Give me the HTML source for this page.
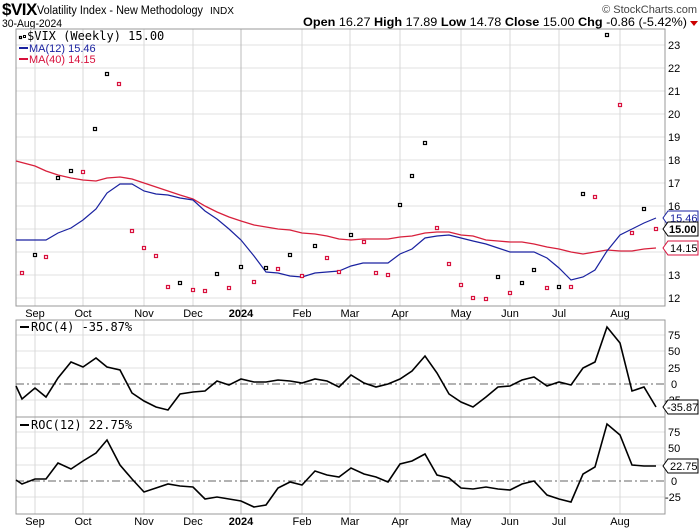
<!DOCTYPE html>
<html><head><meta charset="utf-8"><style>
body{margin:0;background:#fff;}
svg{display:block;font-family:"Liberation Sans",sans-serif;}
.m{font-family:"DejaVu Sans Mono","Liberation Mono",monospace;}
</style></head><body>
<svg width="700" height="530" viewBox="0 0 700 530" xmlns="http://www.w3.org/2000/svg">
<text x="2" y="15" font-size="17" font-weight="bold" letter-spacing="-0.5">$VIX</text>
<text x="37" y="14" font-size="11.5" textLength="166" lengthAdjust="spacingAndGlyphs">Volatility Index - New Methodology</text>
<text x="210" y="14" font-size="10.5" textLength="24" lengthAdjust="spacingAndGlyphs">INDX</text>
<text x="697" y="13" font-size="11" text-anchor="end" fill="#444">© StockCharts.com</text>
<text x="2" y="27" font-size="11" textLength="60" lengthAdjust="spacingAndGlyphs">30-Aug-2024</text>
<text x="303" y="26" font-size="12" textLength="384" lengthAdjust="spacingAndGlyphs"><tspan font-weight="bold">Open</tspan> 16.27 <tspan font-weight="bold">High</tspan> 17.89 <tspan font-weight="bold">Low</tspan> 14.78 <tspan font-weight="bold">Close</tspan> 15.00 <tspan font-weight="bold">Chg</tspan> -0.86 (-5.42%)</text>
<path d="M690 21L698 21L694 26Z" fill="#c00"/>

<g stroke="#e0e0e0" stroke-width="1">
<line x1="16" x2="665" y1="45" y2="45"/><line x1="16" x2="665" y1="68" y2="68"/><line x1="16" x2="665" y1="91" y2="91"/><line x1="16" x2="665" y1="114" y2="114"/><line x1="16" x2="665" y1="137" y2="137"/><line x1="16" x2="665" y1="160" y2="160"/><line x1="16" x2="665" y1="183" y2="183"/><line x1="16" x2="665" y1="206" y2="206"/><line x1="16" x2="665" y1="229" y2="229"/><line x1="16" x2="665" y1="252" y2="252"/><line x1="16" x2="665" y1="275" y2="275"/><line x1="16" x2="665" y1="298" y2="298"/>
<line x1="16" x2="665" y1="335" y2="335"/><line x1="16" x2="665" y1="351" y2="351"/><line x1="16" x2="665" y1="368" y2="368"/><line x1="16" x2="665" y1="400" y2="400"/>
<line x1="16" x2="665" y1="432" y2="432"/><line x1="16" x2="665" y1="448" y2="448"/><line x1="16" x2="665" y1="465" y2="465"/><line x1="16" x2="665" y1="497" y2="497"/>
</g>
<g stroke="#d8d8d8">
<path d="M35 29V306M83 29V306M144 29V306M193 29V306M302 29V306M350 29V306M400 29V306M461 29V306M510 29V306M559 29V306M620 29V306"/>
<path d="M35 320V514M83 320V514M144 320V514M193 320V514M302 320V514M350 320V514M400 320V514M461 320V514M510 320V514M559 320V514M620 320V514"/>
</g>
<path d="M241 29V514" stroke="#bbb"/>
<g fill="none" stroke="#999">
<rect x="16" y="29" width="649" height="277"/>
<rect x="16" y="320" width="649" height="97"/>
<rect x="16" y="417" width="649" height="97"/>
</g>
<path d="M16 384H665M16 481H665" stroke="#666" stroke-dasharray="8,3,2,3"/>

<g font-size="11" fill="#000">
<text x="668" y="49">23</text><text x="668" y="72">22</text><text x="668" y="95">21</text><text x="668" y="118">20</text><text x="668" y="141">19</text><text x="668" y="164">18</text><text x="668" y="187">17</text><text x="668" y="210">16</text><text x="668" y="279">13</text><text x="668" y="302">12</text>
<text x="668" y="339">75</text><text x="668" y="355">50</text><text x="668" y="372">25</text><text x="671" y="388">0</text><text x="665" y="404">-25</text>
<text x="668" y="436">75</text><text x="668" y="452">50</text><text x="671" y="485">0</text><text x="665" y="501">-25</text>
</g>
<g font-size="11" text-anchor="middle">
<text x="35" y="317">Sep</text><text x="83" y="317">Oct</text><text x="144" y="317">Nov</text><text x="193" y="317">Dec</text><text x="241" y="317" font-weight="bold">2024</text><text x="302" y="317">Feb</text><text x="350" y="317">Mar</text><text x="400" y="317">Apr</text><text x="461" y="317">May</text><text x="510" y="317">Jun</text><text x="559" y="317">Jul</text><text x="620" y="317">Aug</text>
<text x="35" y="525">Sep</text><text x="83" y="525">Oct</text><text x="144" y="525">Nov</text><text x="193" y="525">Dec</text><text x="241" y="525" font-weight="bold">2024</text><text x="302" y="525">Feb</text><text x="350" y="525">Mar</text><text x="400" y="525">Apr</text><text x="461" y="525">May</text><text x="510" y="525">Jun</text><text x="559" y="525">Jul</text><text x="620" y="525">Aug</text>
</g>

<polyline fill="none" stroke="#d8203c" stroke-width="1.3" points="16,161 35,166 46,171 58,175 71,178 83,180 96,181 107,178 120,177 132,179 144,183 156,187 168,191 180,195 193,199 205,206 217,212 229,217 241,221 254,225 266,227 278,229 290,230 302,233 315,234 327,236 339,239 351,240 363,239 376,239 388,239 400,237 412,236 425,233 437,232 449,232 461,235 473,236 486,240 498,241 510,242 522,242 534,244 547,247 559,249 571,252 583,254 595,252 607,250 620,251 632,251 644,249 656,248"/>
<polyline fill="none" stroke="#1a22a0" stroke-width="1.2" points="16,240 46,240 58,233 71,228 83,220 96,209 107,193 120,184 132,184 144,191 156,194 168,195 180,198 193,200 205,211 217,219 229,229 241,240 254,256 266,272 278,273 290,276 302,277 315,273 327,272 339,271 351,266 363,263 376,263 388,263 400,254 412,249 425,238 437,236 449,235 461,238 473,241 486,244 498,248 510,252 522,252 534,252 547,258 559,268 571,280 583,277 595,270 607,251 620,235 632,229 644,223 656,218"/>

<g fill="#fff" stroke-width="1.2">
<g stroke="#000">
<rect x="33.5" y="253.5" width="3" height="3"/><rect x="56.5" y="176.5" width="3" height="3"/><rect x="69.5" y="169.5" width="3" height="3"/><rect x="93.5" y="127.5" width="3" height="3"/><rect x="105.5" y="72.5" width="3" height="3"/><rect x="178.5" y="281.5" width="3" height="3"/><rect x="215.5" y="272.5" width="3" height="3"/><rect x="239.5" y="265.5" width="3" height="3"/><rect x="264.5" y="266.5" width="3" height="3"/><rect x="288.5" y="253.5" width="3" height="3"/><rect x="313.5" y="244.5" width="3" height="3"/><rect x="349.5" y="233.5" width="3" height="3"/><rect x="398.5" y="203.5" width="3" height="3"/><rect x="410.5" y="174.5" width="3" height="3"/><rect x="423.5" y="141.5" width="3" height="3"/><rect x="496.5" y="275.5" width="3" height="3"/><rect x="520.5" y="281.5" width="3" height="3"/><rect x="532.5" y="268.5" width="3" height="3"/><rect x="557.5" y="285.5" width="3" height="3"/><rect x="581.5" y="192.5" width="3" height="3"/><rect x="605.5" y="33.5" width="3" height="3"/><rect x="642.5" y="207.5" width="3" height="3"/>
<rect x="19.5" y="36.5" width="2" height="2"/>
</g>
<g stroke="#d8103c">
<rect x="20.5" y="271.5" width="3" height="3"/><rect x="44.5" y="255.5" width="3" height="3"/><rect x="81.5" y="170.5" width="3" height="3"/><rect x="117.5" y="82.5" width="3" height="3"/><rect x="130.5" y="229.5" width="3" height="3"/><rect x="142.5" y="246.5" width="3" height="3"/><rect x="154.5" y="254.5" width="3" height="3"/><rect x="166.5" y="285.5" width="3" height="3"/><rect x="191.5" y="288.5" width="3" height="3"/><rect x="203.5" y="289.5" width="3" height="3"/><rect x="227.5" y="286.5" width="3" height="3"/><rect x="252.5" y="280.5" width="3" height="3"/><rect x="276.5" y="267.5" width="3" height="3"/><rect x="300.5" y="274.5" width="3" height="3"/><rect x="325.5" y="256.5" width="3" height="3"/><rect x="337.5" y="270.5" width="3" height="3"/><rect x="362.5" y="240.5" width="3" height="3"/><rect x="374.5" y="271.5" width="3" height="3"/><rect x="386.5" y="273.5" width="3" height="3"/><rect x="435.5" y="226.5" width="3" height="3"/><rect x="447.5" y="262.5" width="3" height="3"/><rect x="459.5" y="283.5" width="3" height="3"/><rect x="471.5" y="296.5" width="3" height="3"/><rect x="484.5" y="297.5" width="3" height="3"/><rect x="508.5" y="291.5" width="3" height="3"/><rect x="545.5" y="286.5" width="3" height="3"/><rect x="569.5" y="285.5" width="3" height="3"/><rect x="593.5" y="195.5" width="3" height="3"/><rect x="618.5" y="103.5" width="3" height="3"/><rect x="630.5" y="231.5" width="3" height="3"/><rect x="654.5" y="227.5" width="3" height="3"/>
</g>
</g>

<polyline fill="none" stroke="#000" stroke-width="1.6" points="16,386 22,399 35,388 46,397 58,378 71,362 83,367 96,358 107,367 120,370 132,393 144,401 156,407 168,410 180,394 193,392 205,391 217,381 229,385 241,379 254,382 266,382 278,380 290,381 302,383 315,379 327,381 339,387 351,375 364,383 376,387 388,384 400,379 412,371 425,356 437,373 449,394 461,402 473,407 486,397 498,387 510,386 522,380 534,377 547,386 559,382 571,385 583,368 595,362 607,327 620,343 632,391 644,387 656,407"/>
<polyline fill="none" stroke="#000" stroke-width="1.6" points="16,480 22,484 35,479 46,479 58,463 71,469 83,461 96,453 107,440 120,465 132,479 144,492 156,488 168,484 180,486 193,487 205,499 217,497 229,499 241,501 254,507 266,505 278,488 290,482 302,485 315,471 327,475 339,477 351,468 364,474 376,477 388,482 400,464 412,461 425,454 437,475 449,478 461,488 473,489 486,487 498,489 510,490 522,484 534,481 547,495 559,499 571,502 583,474 595,467 607,424 620,435 632,465 644,466 656,466"/>

<g class="m" font-size="12">
<text x="27" y="40">$VIX (Weekly) 15.00</text>
<rect x="23.5" y="35.5" width="2" height="2" fill="none" stroke="#000"/>
<path d="M19 48H28" stroke="#1a22a0" stroke-width="2"/><text x="29" y="52" fill="#1a22a0" font-family="Liberation Sans" font-size="11">MA(12) 15.46</text>
<path d="M19 59H28" stroke="#d8103c" stroke-width="2"/><text x="29" y="63" fill="#d8103c" font-family="Liberation Sans" font-size="11">MA(40) 14.15</text>
<path d="M20 327H29" stroke="#000" stroke-width="2"/><text x="31" y="331">ROC(4) -35.87%</text>
<path d="M20 425H29" stroke="#000" stroke-width="2"/><text x="31" y="429">ROC(12) 22.75%</text>
</g>

<g font-size="11">
<path d="M668 211H698V225H668L663 218Z" fill="#fff" stroke="#1a22a0"/><text x="670" y="222" fill="#1a22a0">15.46</text>
<path d="M668 222H698V236H668L663 229Z" fill="#fff" stroke="#000"/><text x="669" y="233" font-weight="bold">15.00</text>
<path d="M668 241H698V255H668L663 248Z" fill="#fff" stroke="#d8103c"/><text x="670" y="252" fill="#000">14.15</text>
<path d="M668 400H698V414H668L663 407Z" fill="#fff" stroke="#000"/><text x="667" y="411">-35.87</text>
<path d="M668 459H698V473H668L663 466Z" fill="#fff" stroke="#000"/><text x="670" y="470">22.75</text>
</g>
</svg>
</body></html>
